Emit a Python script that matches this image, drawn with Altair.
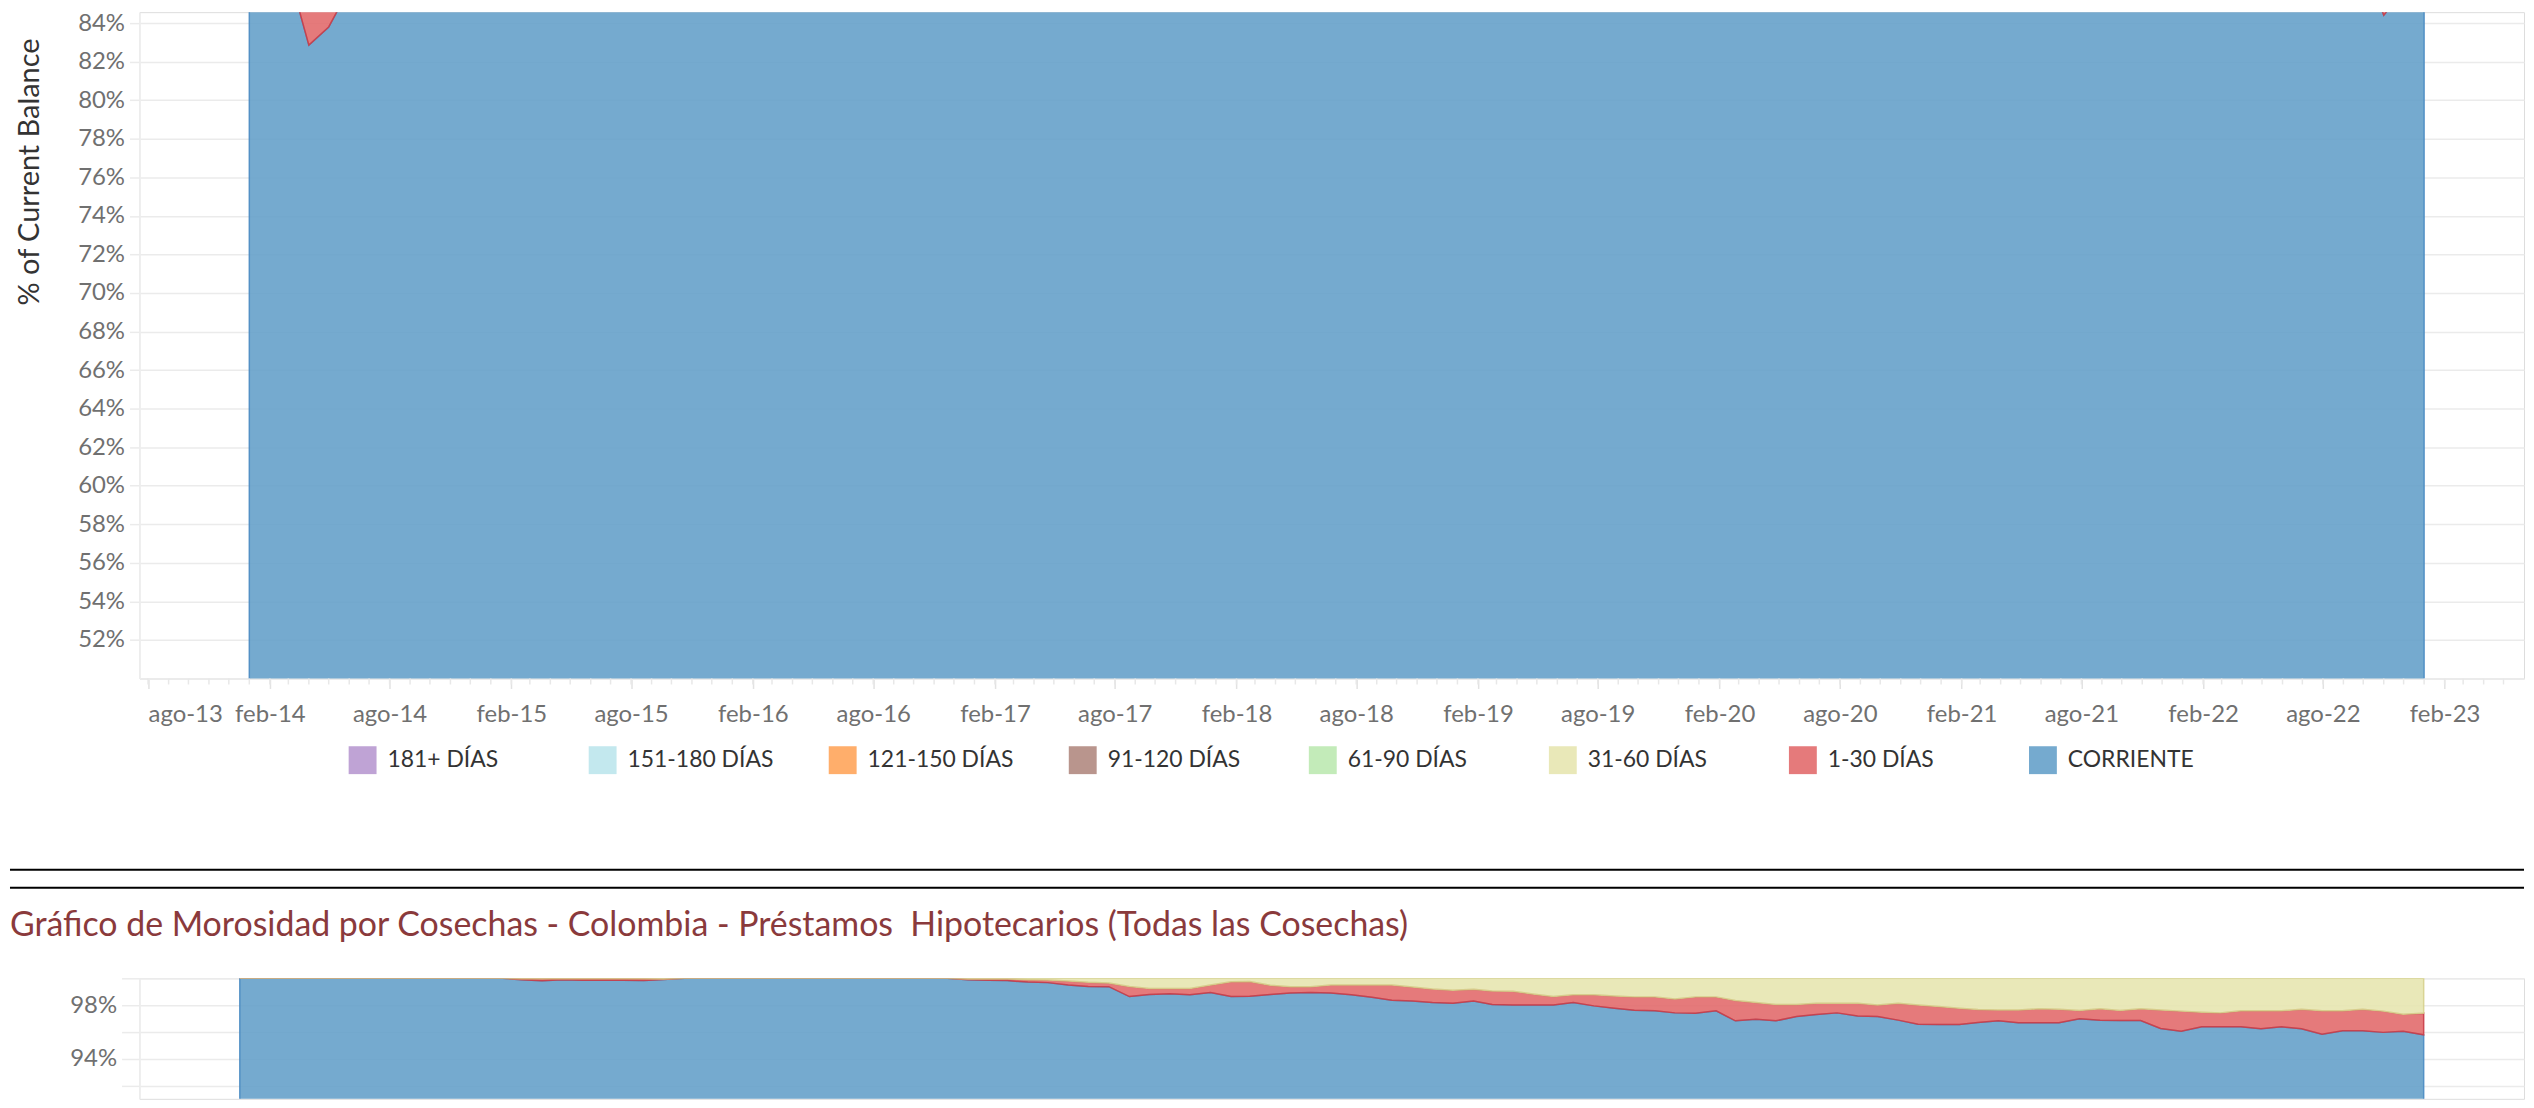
import altair as alt
import pandas as pd

FONT = "Lato"

# ---------------- categories / colours ----------------
categories = ["181+ DÍAS", "151-180 DÍAS", "121-150 DÍAS", "91-120 DÍAS",
              "61-90 DÍAS", "31-60 DÍAS", "1-30 DÍAS", "CORRIENTE"]
fill_colors = ["#b899d0", "#bce5ec", "#ffa55b", "#b18981",
               "#bce9b1", "#e7e5b0", "#e26b6d", "#66a1ca"]
stroke_colors = ["#9a78b8", "#8fcbd6", "#e8873a", "#96675e",
                 "#8fcf80", "#d6d08c", "#c93d48", "#4a8bc2"]

month_names_es = ["ene", "feb", "mar", "abr", "may", "jun",
                  "jul", "ago", "sep", "oct", "nov", "dic"]

bottom_title = "Gráfico de Morosidad por Cosechas - Colombia - Préstamos\u00a0 Hipotecarios (Todas las Cosechas)"

# monthly observations: ene-14 ... ene-23 (109 months)
months = [d.strftime("%Y-%m-%d") for d in pd.date_range("2014-01-01", periods=109, freq="MS")]

# ---------------- top chart values (% of balance) ----------------
top_corriente = [
    91.2, 88.9, 86.7, 82.86, 83.8, 85.77, 87.6, 89.1, 90.4, 91.3, 92.0, 92.6,
    93.1, 93.5, 93.9, 94.2, 94.4, 94.7, 94.9, 95.0, 95.2, 95.3, 95.5, 95.6,
    95.7, 95.8, 95.8, 95.9, 96.0, 96.0, 96.1, 96.1, 96.2, 96.2, 96.3, 96.3,
    96.3, 96.4, 96.4, 96.3, 96.2, 96.2, 96.1, 96.0, 95.9, 95.9, 95.8, 95.7,
    95.6, 95.5, 95.4, 95.3, 95.1, 95.0, 94.9, 94.7, 94.6, 94.4, 94.3, 94.1,
    94.0, 93.8, 93.7, 93.5, 93.2, 93.0, 92.8, 92.6, 92.4, 92.3, 92.1, 91.9,
    91.8, 91.6, 91.3, 90.4, 89.9, 90.2, 90.5, 90.7, 90.8, 90.6, 90.5, 90.3,
    90.2, 90.0, 89.9, 89.7, 89.6, 89.4, 89.3, 89.1, 89.0, 88.8, 88.7, 88.6,
    88.4, 88.3, 88.2, 88.0, 87.9, 87.8, 87.6, 87.5, 87.4, 87.25, 84.41, 85.67,
    84.9,
]
top_1_30 = [
    4.6, 6.1, 7.4, 8.9, 8.4, 7.3, 6.5, 5.9, 5.4, 5.0, 4.7, 4.5,
    4.3, 4.1, 4.0, 3.9, 3.8, 3.7, 3.6, 3.6, 3.5, 3.5, 3.4, 3.4,
    3.3, 3.3, 3.3, 3.2, 3.2, 3.2, 3.1, 3.1, 3.1, 3.1, 3.0, 3.0,
    3.0, 3.0, 3.1, 3.1, 3.2, 3.2, 3.2, 3.3, 3.3, 3.3, 3.4, 3.4,
    3.4, 3.5, 3.5, 3.6, 3.6, 3.7, 3.7, 3.8, 3.8, 3.9, 3.9, 4.0,
    4.0, 4.1, 4.1, 4.2, 4.3, 4.3, 4.4, 4.4, 4.5, 4.5, 4.6, 4.7,
    4.7, 4.8, 4.9, 5.6, 5.9, 5.7, 5.5, 5.4, 5.3, 5.4, 5.4, 5.5,
    5.5, 5.6, 5.6, 5.7, 5.7, 5.8, 5.8, 5.9, 5.9, 6.0, 6.0, 6.1,
    6.1, 6.2, 6.2, 6.3, 6.3, 6.4, 6.4, 6.5, 6.5, 6.6, 8.2, 7.5,
    7.9,
]

# ---------------- bottom chart values (% of balance) ----------------
bottom_corriente = [
    100.0, 100.0, 100.0, 100.0, 100.0, 100.0, 100.0, 100.0, 100.0, 100.0, 100.0, 100.0,
    100.0, 100.0, 99.90, 99.82, 99.90, 99.85, 99.85, 99.85, 99.83, 99.92, 100.0, 100.0,
    100.0, 100.0, 100.0, 100.0, 100.0, 100.0, 100.0, 100.0, 100.0, 100.0, 100.0, 100.0,
    99.90, 99.85, 99.83, 99.72, 99.68, 99.50, 99.40, 99.38, 98.64, 98.80, 98.85, 98.77,
    98.95, 98.64, 98.67, 98.79, 98.91, 98.94, 98.91, 98.77, 98.59, 98.37, 98.32, 98.20,
    98.15, 98.32, 98.05, 98.02, 98.02, 98.02, 98.20, 97.95, 97.78, 97.63, 97.58, 97.43,
    97.41, 97.58, 96.84, 96.96, 96.84, 97.16, 97.31, 97.43, 97.19, 97.16, 96.89, 96.59,
    96.57, 96.57, 96.72, 96.84, 96.69, 96.69, 96.69, 96.99, 96.89, 96.86, 96.86, 96.27,
    96.07, 96.40, 96.40, 96.40, 96.25, 96.40, 96.25, 95.85, 96.10, 96.10, 95.98, 96.07,
    95.80,
]
# upper edge of the "1-30 DÍAS" band (CORRIENTE + 1-30)
bottom_edge_1_30 = [
    100.0, 100.0, 100.0, 100.0, 100.0, 100.0, 100.0, 100.0, 100.0, 100.0, 100.0, 100.0,
    100.0, 100.0, 99.97, 99.97, 99.97, 99.97, 99.97, 99.97, 99.97, 99.95, 100.0, 100.0,
    100.0, 100.0, 100.0, 100.0, 100.0, 100.0, 100.0, 100.0, 100.0, 100.0, 100.0, 100.0,
    99.95, 99.95, 99.95, 99.90, 99.88, 99.80, 99.70, 99.65, 99.40, 99.25, 99.25, 99.25,
    99.50, 99.75, 99.77, 99.48, 99.38, 99.38, 99.51, 99.51, 99.51, 99.51, 99.36, 99.21,
    99.11, 99.19, 99.06, 99.04, 98.84, 98.64, 98.77, 98.77, 98.69, 98.62, 98.62, 98.47,
    98.62, 98.62, 98.35, 98.20, 98.05, 98.05, 98.15, 98.15, 98.15, 98.02, 98.15, 98.02,
    97.90, 97.78, 97.68, 97.65, 97.65, 97.73, 97.70, 97.60, 97.73, 97.60, 97.73, 97.65,
    97.56, 97.48, 97.43, 97.58, 97.58, 97.58, 97.70, 97.58, 97.58, 97.70, 97.56, 97.33,
    97.41,
]

# ---------------- axis tick lists ----------------
top_y_ticks = [0.52, 0.54, 0.56, 0.58, 0.60, 0.62, 0.64, 0.66, 0.68, 0.70,
               0.72, 0.74, 0.76, 0.78, 0.80, 0.82, 0.84]
bottom_y_ticks = [0.92, 0.94, 0.96, 0.98, 1.00]
major_x_ticks = [alt.DateTime(year=y, month=m, date=1, utc=True)
                 for y in range(2013, 2024) for m in (2, 8)
                 if (2013, 8) <= (y, m) <= (2023, 2)]
minor_x_ticks = [d.strftime("%Y-%m-%d") for d in pd.date_range("2013-08-01", "2023-05-01", freq="MS")]

# ---------------- tables ----------------
rows_top = []
for i, m in enumerate(months):
    rows_top.append({"mes": m, "cat": "CORRIENTE", "valor": top_corriente[i] / 100, "ord": 0})
    rows_top.append({"mes": m, "cat": "1-30 DÍAS", "valor": top_1_30[i] / 100, "ord": 1})
df_top = pd.DataFrame(rows_top)

rows_bot = []
for i, m in enumerate(months):
    c = bottom_corriente[i]
    e = bottom_edge_1_30[i]
    rows_bot.append({"mes": m, "cat": "CORRIENTE", "valor": c / 100, "ord": 0})
    rows_bot.append({"mes": m, "cat": "1-30 DÍAS", "valor": max(e - c, 0) / 100, "ord": 1})
    rows_bot.append({"mes": m, "cat": "31-60 DÍAS", "valor": max(100.0 - e, 0) / 100, "ord": 2})
df_bot = pd.DataFrame(rows_bot)

LABEL_COLOR = "#707070"
GRID = "#ebebeb"
W = 2394

label_expr_x = ("['" + "','".join(month_names_es) + "'][utcmonth(datum.value)] + '-' + utcFormat(datum.value, '%y')")

color_top = alt.Color(
    "cat:N",
    scale=alt.Scale(domain=categories, range=fill_colors),
    legend=alt.Legend(
        title=None, orient="none", legendX=210, legendY=737, direction="horizontal",
        columns=8, gridAlign="all", columnPadding=55, padding=0,
        symbolType="square", symbolSize=784, symbolStrokeWidth=0, symbolOpacity=0.9,
        labelFont=FONT, labelFontSize=23, labelColor="#333333", labelOffset=11,
        labelLimit=400,
    ),
)
stroke_enc = alt.Stroke("cat:N", scale=alt.Scale(domain=categories, range=stroke_colors), legend=None)

top_area = alt.Chart(df_top).mark_area(
    clip=True, fillOpacity=0.9, strokeWidth=1.5, strokeOpacity=0.9
).encode(
    x=alt.X("mes:T",
            scale=alt.Scale(type="utc",
                            domain=[alt.DateTime(year=2013, month=7, date=19, utc=True),
                                    alt.DateTime(year=2023, month=6, date=1, utc=True)]),
            axis=alt.Axis(values=major_x_ticks, labelExpr=label_expr_x, title=None, grid=False,
                          tickSize=10, tickColor="#e2e2e2", tickWidth=1.5,
                          domainColor=GRID, domainWidth=2, labelFlush=20, labelOverlap=False,
                          labelPadding=14, labelFont=FONT, labelFontSize=24, labelColor=LABEL_COLOR)),
    y=alt.Y("valor:Q", stack="zero",
            scale=alt.Scale(domain=[0.5, 0.84568], nice=False, zero=False),
            axis=alt.Axis(values=top_y_ticks, format=".0%", title="% of Current Balance",
                          titleFont=FONT, titleFontSize=29, titleFontWeight="normal", titleColor="#333333",
                          titleX=-110, titleY=160, titleAngle=270, titleAlign="center", titleBaseline="middle",
                          grid=True, gridColor=GRID, gridWidth=1.5,
                          tickSize=10, tickColor=GRID, tickWidth=1.5,
                          domainColor="#efefef", domainWidth=1,
                          labelPadding=5, labelFont=FONT, labelFontSize=24, labelColor=LABEL_COLOR)),
    color=color_top,
    stroke=stroke_enc,
    order=alt.Order("ord:Q"),
)

top_minor = alt.Chart(pd.DataFrame({"mes": minor_x_ticks})).mark_rule(
    color="#e8e8e8", strokeWidth=1.5
).encode(x="mes:T", y=alt.value(669), y2=alt.value(675))

top = alt.layer(top_area, top_minor).properties(width=W, height=669)

bottom_area = alt.Chart(df_bot).mark_area(
    clip=True, fillOpacity=0.9, strokeWidth=1.5, strokeOpacity=0.9
).encode(
    x=alt.X("mes:T",
            scale=alt.Scale(type="utc",
                            domain=[alt.DateTime(year=2013, month=8, date=3, utc=True),
                                    alt.DateTime(year=2023, month=6, date=1, utc=True)]),
            axis=None),
    y=alt.Y("valor:Q", stack="zero",
            scale=alt.Scale(domain=[0.91037, 1.0], nice=False, zero=False),
            axis=alt.Axis(values=bottom_y_ticks, title=None,
                          labelExpr="(round(datum.value*100) % 4 == 2) ? format(datum.value, '.0%') : ''",
                          grid=True, gridColor=GRID, gridWidth=1.5,
                          tickSize=18, tickColor=GRID, tickWidth=1.5,
                          domainColor="#efefef", domainWidth=1,
                          labelPadding=5, labelFont=FONT, labelFontSize=24, labelColor=LABEL_COLOR)),
    color=alt.Color("cat:N", scale=alt.Scale(domain=categories, range=fill_colors), legend=None),
    stroke=stroke_enc,
    order=alt.Order("ord:Q"),
)

one = pd.DataFrame({"k": [0]})
line_a = alt.Chart(one).mark_rule(color="#000000", strokeWidth=2).encode(
    x=alt.value(-130), x2=alt.value(W), y=alt.value(-109))
line_b = alt.Chart(one).mark_rule(color="#000000", strokeWidth=2).encode(
    x=alt.value(-130), x2=alt.value(W), y=alt.value(-91))
title_text = alt.Chart(one).mark_text(
    align="left", baseline="alphabetic", font=FONT, fontSize=34, color="#8a3a3c"
).encode(x=alt.value(-130), y=alt.value(-42), text=alt.value(bottom_title))

bottom = alt.layer(bottom_area, line_a, line_b, title_text).properties(width=W, height=121)

chart = alt.vconcat(top, bottom, spacing=141).properties(padding=0).configure_view(
    stroke=None).configure(font=FONT)

chart.save("out.html", embed_options={"renderer": "svg", "actions": False})
